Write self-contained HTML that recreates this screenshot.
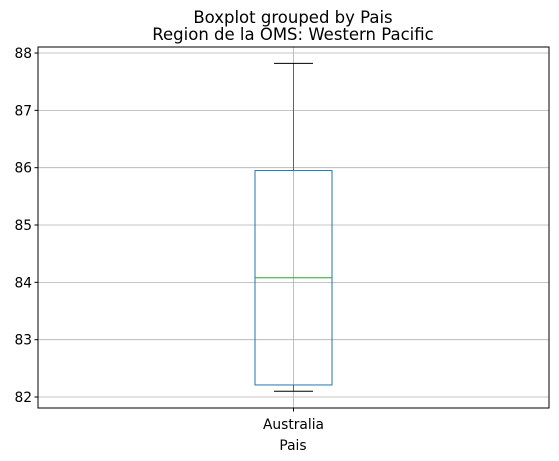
<!DOCTYPE html>
<html><head><meta charset="utf-8"><style>body{margin:0;background:#fff}svg{display:block;font-family:"DejaVu Sans","Liberation Sans",sans-serif}</style></head>
<body>
<svg id="chart" width="559" height="461">
<text x="293" y="23" text-anchor="middle" font-size="16.5">Boxplot grouped by Pais</text>
<text x="293" y="40" text-anchor="middle" font-size="16.5">Region de la OMS: Western Pacific</text>
<g id="grid"></g><g id="marks"></g>
<rect x="38" y="47" width="511" height="361" fill="none" stroke="#000" stroke-width="1"/>
<text x="293" y="450" text-anchor="middle" font-size="13.8">Pais</text>
</svg>
<script>
const categories = ["Australia"];
const whiskerLow = [82.1];
const q1 = [82.21];
const median = [84.08];
const q3 = [85.95];
const whiskerHigh = [87.82];
const yTicks = [82, 83, 84, 85, 86, 87, 88];

const NS = "http://www.w3.org/2000/svg";
const L = 38, R = 549;
const y = v => 397 - (v - 82) * 57.33;
const x = i => L + (R - L) * (i + 1) / (categories.length + 1);
const grid = document.getElementById('grid'), marks = document.getElementById('marks');
function mk(tag, attrs, parent) { const e = document.createElementNS(NS, tag); for (const k in attrs) e.setAttribute(k, attrs[k]); parent.appendChild(e); return e; }

yTicks.forEach(t => {
  const g = mk('line', {x1: L, x2: R, y1: y(t), y2: y(t), stroke: '#b0b0b0', 'stroke-width': 0.8}, grid);
  
  
  const tk = mk('line', {x1: L - 3.5, x2: L, y1: y(t), y2: y(t), stroke: '#000'}, grid);
  
  
  const lb = mk('text', {x: L - 6, y: y(t) + 5, 'text-anchor': 'end', 'font-size': 13.8}, grid);
  lb.textContent = t;
  
  
});
categories.forEach((c, i) => {
  const cx = x(i);
  const g = mk('line', {x1: cx, x2: cx, y1: 47, y2: 408, stroke: '#b0b0b0', 'stroke-width': 0.8}, grid);
  
  
  const tk = mk('line', {x1: cx, x2: cx, y1: 408, y2: 411.5, stroke: '#000'}, grid);
  
  
  const lb = mk('text', {x: cx, y: 429, 'text-anchor': 'middle', 'font-size': 13.8}, grid);
  lb.textContent = c;
  
  
  const bw = 77, cw = 39;
  const w1 = mk('line', {x1: cx, x2: cx, y1: y(whiskerLow[i]), y2: y(q1[i]), stroke: '#1f77b4'}, marks);
  
  
  const w2 = mk('line', {x1: cx, x2: cx, y1: y(q3[i]), y2: y(whiskerHigh[i]), stroke: '#1f77b4'}, marks);
  
  
  const b = mk('rect', {x: cx - bw / 2, y: y(q3[i]), width: bw, height: y(q1[i]) - y(q3[i]), fill: 'none', stroke: '#1f77b4'}, marks);
  
  
  const m = mk('line', {x1: cx - bw / 2, x2: cx + bw / 2, y1: y(median[i]), y2: y(median[i]), stroke: '#2ca02c'}, marks);
  
  
  const c1 = mk('line', {x1: cx - cw / 2, x2: cx + cw / 2, y1: y(whiskerLow[i]), y2: y(whiskerLow[i]), stroke: '#000'}, marks);
  
  
  const c2 = mk('line', {x1: cx - cw / 2, x2: cx + cw / 2, y1: y(whiskerHigh[i]), y2: y(whiskerHigh[i]), stroke: '#000'}, marks);
  
  
});
</script>
</body></html>
